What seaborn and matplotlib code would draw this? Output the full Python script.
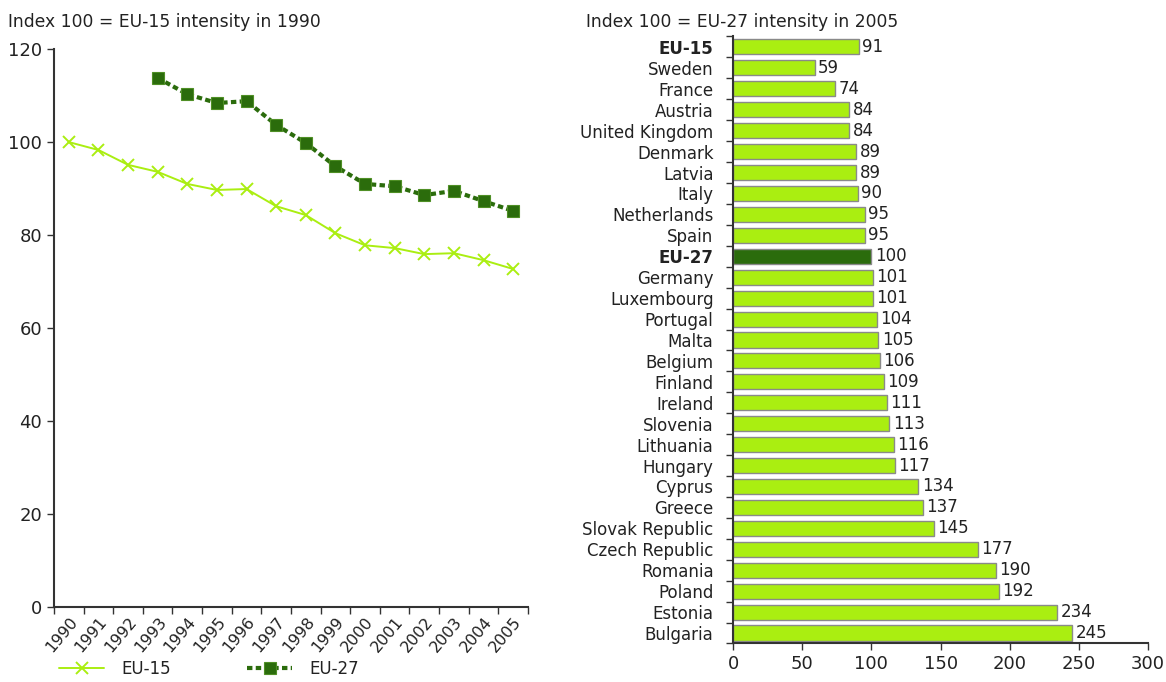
import matplotlib
matplotlib.use("Agg")
import matplotlib.pyplot as plt
import seaborn as sns
import pandas as pd
from matplotlib.ticker import FixedLocator

# left panel: index 100 = EU-15 in 1990
years = list(range(1990, 2006))
eu15 = [100.0, 98.3, 95.1, 93.6, 91.0, 89.7, 89.9, 86.2, 84.3, 80.4, 77.8, 77.2, 75.9, 76.1, 74.6, 72.7]
eu27_years = list(range(1993, 2006))
eu27 = [113.8, 110.3, 108.4, 108.8, 103.7, 99.8, 94.8, 91.0, 90.5, 88.6, 89.5, 87.3, 85.2]

# right panel: index 100 = EU-27 in 2005
countries = ["EU-15", "Sweden", "France", "Austria", "United Kingdom", "Denmark", "Latvia",
             "Italy", "Netherlands", "Spain", "EU-27", "Germany", "Luxembourg", "Portugal",
             "Malta", "Belgium", "Finland", "Ireland", "Slovenia", "Lithuania", "Hungary",
             "Cyprus", "Greece", "Slovak Republic", "Czech Republic", "Romania", "Poland",
             "Estonia", "Bulgaria"]
intensity = [91, 59, 74, 84, 84, 89, 89, 90, 95, 95, 100, 101, 101, 104, 105, 106, 109,
             111, 113, 116, 117, 134, 137, 145, 177, 190, 192, 234, 245]

LIGHT = "#aaee11"
DARK = "#2b6c0c"
TXT = "#222222"

sns.set_theme(style="white")
plt.rcParams["font.family"] = ["DejaVu Sans"]
plt.rcParams["font.size"] = 12

fig = plt.figure(figsize=(11.66, 6.82), dpi=100)
ax1 = fig.add_axes([0.0463, 0.110, 0.4065, 0.818])
ax2 = fig.add_axes([0.6287, 0.0565, 0.356, 0.890])

# --- line chart ---
df15 = pd.DataFrame({"pos": [y - 1990 for y in years], "val": eu15})
df27 = pd.DataFrame({"pos": [y - 1990 for y in eu27_years], "val": eu27})
sns.lineplot(data=df15, x="pos", y="val", ax=ax1, color=LIGHT, lw=1.4,
             marker="x", markersize=9, markeredgecolor=LIGHT, markeredgewidth=1.4,
             label="EU-15")
sns.lineplot(data=df27, x="pos", y="val", ax=ax1, color=DARK, lw=3,
             linestyle=(0, (1.3, 0.8)), marker="s", markersize=9,
             markeredgecolor="#4f8f25", markeredgewidth=0.8, label="EU-27")
ax1.set_xlim(-0.5, len(years) - 0.5)
ax1.set_ylim(0, 120)
ax1.set_yticks(range(0, 121, 20))
ax1.set_xticks(range(len(years)))
ax1.set_xticklabels([str(y) for y in years], rotation=50, ha="right",
                    rotation_mode="anchor", fontsize=11.5, color=TXT)
ax1.xaxis.set_minor_locator(FixedLocator([i - 0.5 for i in range(len(years) + 1)]))
ax1.tick_params(axis="x", which="major", length=0, pad=5)
ax1.tick_params(axis="x", which="minor", length=5, width=1, color="#333333", bottom=True)
ax1.tick_params(axis="y", length=5, width=1, color="#333333", left=True, labelsize=13,
                labelcolor=TXT)
ax1.set_xlabel("")
ax1.set_ylabel("")
for s in ["top", "right"]:
    ax1.spines[s].set_visible(False)
for s in ["left", "bottom"]:
    ax1.spines[s].set_color("#333333")
    ax1.spines[s].set_linewidth(1.5)
ax1.get_legend().remove()
fig.text(0.007, 0.968, "Index 100 = EU-15 intensity in 1990", fontsize=12.3, color=TXT,
         va="center")

h, l = ax1.get_legend_handles_labels()
fig.legend(h, l, loc="lower left", bbox_to_anchor=(0.038, -0.016), ncol=2, frameon=False,
           fontsize=12, handlelength=2.7, columnspacing=4.6, handletextpad=1.0,
           labelcolor=TXT)

# --- bar chart ---
dfb = pd.DataFrame({"country": countries, "val": intensity})
pal = {c: (DARK if c == "EU-27" else LIGHT) for c in countries}
sns.barplot(data=dfb, x="val", y="country", hue="country", palette=pal, legend=False,
            orient="h", ax=ax2, width=0.72, saturation=1, edgecolor="#8a8a8a", linewidth=1)
for i, v in enumerate(intensity):
    ax2.text(v + 2.5, i, str(v), va="center", ha="left", fontsize=12, color=TXT)
ax2.set_xlim(0, 300)
ax2.set_ylim(len(countries) - 0.5, -0.5)
ax2.set_xticks(range(0, 301, 50))
ax2.set_xlabel("")
ax2.set_ylabel("")
ax2.yaxis.set_minor_locator(FixedLocator([i - 0.5 for i in range(len(countries) + 1)]))
ax2.tick_params(axis="y", which="major", length=0, pad=14, labelsize=12, labelcolor=TXT)
ax2.tick_params(axis="y", which="minor", length=5, width=1, color="#333333", left=True)
ax2.tick_params(axis="x", length=5, width=1, color="#333333", bottom=True, labelsize=13,
                labelcolor=TXT)
for lab in ax2.get_yticklabels():
    if lab.get_text() in ("EU-15", "EU-27"):
        lab.set_fontweight("bold")
for s in ["top", "right"]:
    ax2.spines[s].set_visible(False)
for s in ["left", "bottom"]:
    ax2.spines[s].set_color("#333333")
    ax2.spines[s].set_linewidth(1.5)
fig.text(0.503, 0.968, "Index 100 = EU-27 intensity in 2005", fontsize=12.3, color=TXT,
         va="center")

fig.savefig("out.png", dpi=100)
